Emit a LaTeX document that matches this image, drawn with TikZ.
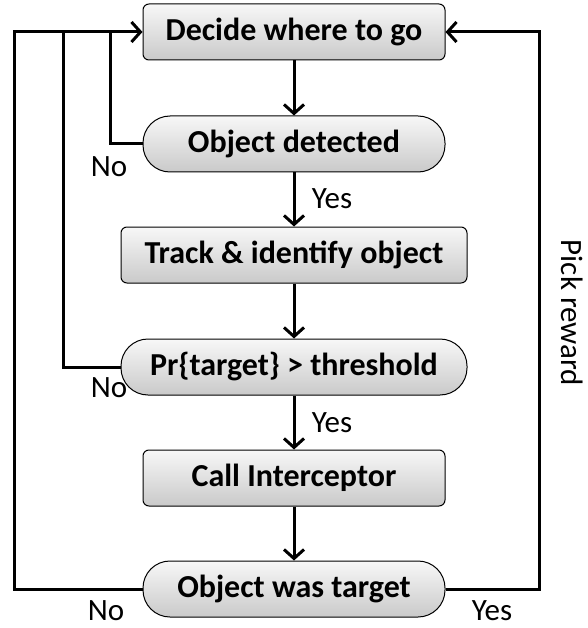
\documentclass[tikz,border=0pt]{standalone}
\usepackage{fontspec}
\setmainfont{Carlito}
\usetikzlibrary{arrows.meta}

\begin{document}
\begin{tikzpicture}[x=1pt,y=-1pt]

	\tikzstyle{step box}=[draw, line width=1pt, rounded corners=6pt, top color=gray!6, bottom color=gray!42, minimum height=56pt, inner sep=0pt, font=\fontsize{32}{34}\selectfont\bfseries];
	\tikzstyle{test box}=[step box, rounded corners=27pt];
	\tikzstyle{flow lines}=[line width=3pt, -{Straight Barb[length=9pt,width=20pt]}];
	\tikzstyle{loop lines}=[line width=3pt];
	\tikzstyle{branch label}=[inner sep=0pt, font=\fontsize{31}{33}\selectfont];

	\useasboundingbox (0,0) rectangle (587,628);

	\node[step box, minimum width=302pt] (decide) at (294,32) {Decide where to go};
	\node[test box, minimum width=302pt] (detected) at (294,144) {Object detected};
	\node[step box, minimum width=346pt] (track) at (294,255) {Track \& identify object};
	\node[test box, minimum width=346pt] (pr) at (294,367) {Pr\{target\} > threshold};
	\node[step box, minimum width=302pt] (call) at (294,478) {Call Interceptor};
	\node[test box, minimum width=302pt] (target) at (294,589) {Object was target};

	\draw[flow lines] (decide) -- (detected);
	\draw[flow lines] (detected) -- (track);
	\draw[flow lines] (track) -- (pr);
	\draw[flow lines] (pr) -- (call);
	\draw[flow lines] (call) -- (target);

	% loops back to the top
	\coordinate (outer top) at (14,32);
	\coordinate (middle top) at (63,32);
	\coordinate (inner top) at (110,32);
	\coordinate (right top) at (539,32);

	\draw[loop lines, line join=miter] (target.west) -| (outer top) -- (middle top);
	\draw[flow lines] (middle top) -- (decide.west);
	\draw[loop lines] (pr.west) -| (middle top);
	\draw[loop lines] (detected.west) -| (inner top);
	\draw[flow lines] (target.east) -| (right top) -- (decide.east);

	\node[branch label] (no detected) at (109,167) {No};
	\node[branch label] (yes detected) at (332,199) {Yes};
	\node[branch label] (no pr) at (109,388) {No};
	\node[branch label] (yes pr) at (332,423) {Yes};
	\node[branch label] (no target) at (106,611) {No};
	\node[branch label] (yes target) at (492,611) {Yes};
	\node[branch label, rotate=-90] (reward) at (572,313) {Pick reward};

\end{tikzpicture}
\end{document}
